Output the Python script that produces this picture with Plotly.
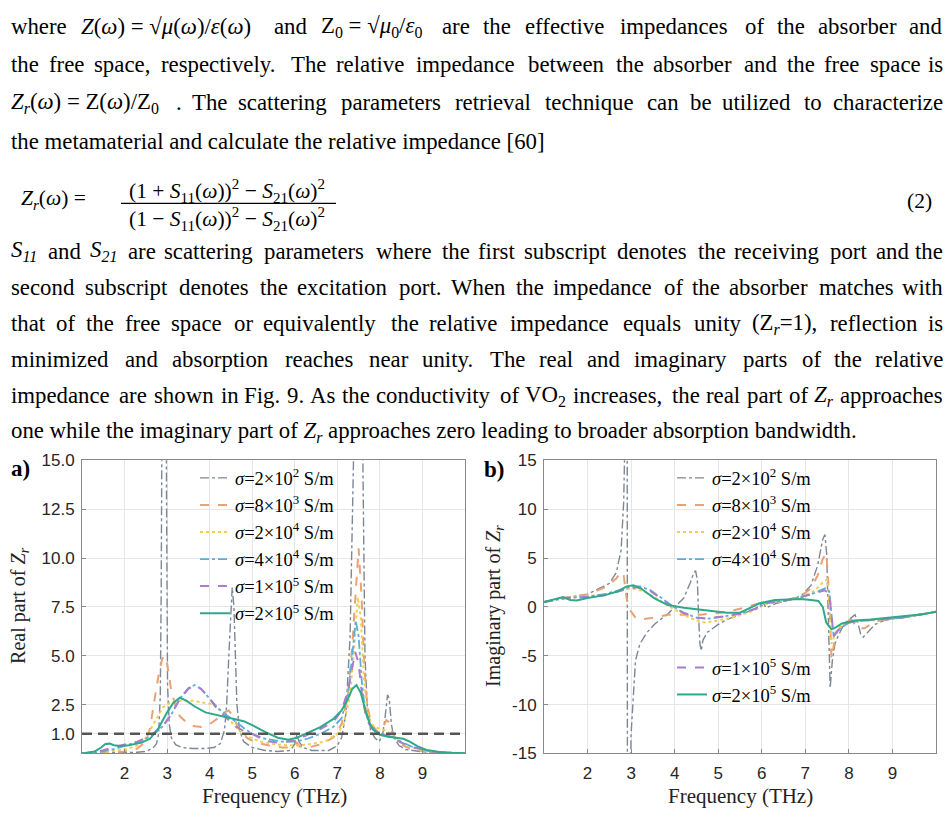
import re
import plotly.graph_objects as go

W, H = 948, 823

# ---------------- data ----------------
legend_labels = [
    "<i>σ</i>=2×10<sup>2</sup> S/m",
    "<i>σ</i>=8×10<sup>3</sup> S/m",
    "<i>σ</i>=2×10<sup>4</sup> S/m",
    "<i>σ</i>=4×10<sup>4</sup> S/m",
    "<i>σ</i>=1×10<sup>5</sup> S/m",
    "<i>σ</i>=2×10<sup>5</sup> S/m",
]
colors = ["#7d8796", "#e9a274", "#f0cf4e", "#5aaedc", "#ad7cc8", "#2fa98b"]
dashes = ["dashdot", "dash", "dot", "dashdot", "dash", "solid"]
widths = [1.4, 2.0, 2.0, 1.8, 2.0, 2.0]

# Real part of Zr (panel a)
re_f_2e2 = [1.0, 1.5, 2.0, 2.3, 2.5, 2.6, 2.7, 2.75, 2.8, 2.84, 2.86, 2.88, 2.93, 2.97, 2.99, 3.01, 3.05, 3.1, 3.2, 3.35,
            3.6, 3.9, 4.1, 4.25, 4.35, 4.4, 4.45, 4.5, 4.53, 4.57, 4.6, 4.64, 4.7, 4.8, 5.0, 5.3, 5.6, 5.9, 6.0, 6.05,
            6.1, 6.2, 6.4, 6.8, 7.0, 7.1, 7.2, 7.3, 7.38, 7.45, 7.5, 7.56, 7.6, 7.65, 7.7, 7.78, 7.88, 7.98, 8.06,
            8.12, 8.18, 8.22, 8.27, 8.33, 8.45, 8.6, 9.0, 9.5, 10.0]
re_v_2e2 = [0.0, 0.01, 0.03, 0.06, 0.1, 0.2, 0.35, 0.5, 1.0, 3.0, 8.0, 20.0, 40.0, 20.0, 8.0, 3.5, 1.5, 0.8, 0.45, 0.3,
            0.25, 0.25, 0.3, 0.5, 1.2, 2.5, 5.0, 7.5, 8.5, 7.5, 5.0, 2.5, 1.2, 0.6, 0.3, 0.15, 0.1, 0.15, 0.5, 0.95,
            0.6, 0.3, 0.15, 0.15, 0.4, 0.8, 2.0, 6.0, 15.0, 30.0, 40.0, 30.0, 15.0, 5.0, 2.5, 1.2, 0.8, 0.6, 0.9,
            1.8, 3.0, 2.8, 1.5, 0.8, 0.4, 0.2, 0.08, 0.03, 0.01]

re_f_8e3 = [1.0, 1.5, 2.0, 2.3, 2.5, 2.6, 2.7, 2.8, 2.88, 2.93, 3.0, 3.05, 3.1, 3.2, 3.3, 3.45, 3.6, 3.8, 4.0, 4.2,
            4.35, 4.45, 4.55, 4.65, 4.75, 4.9, 5.1, 5.4, 5.7, 5.95, 6.05, 6.12, 6.3, 6.6, 6.9, 7.1, 7.25, 7.35, 7.43,
            7.5, 7.57, 7.63, 7.7, 7.8, 7.95, 8.05, 8.15, 8.22, 8.3, 8.45, 8.7, 9.0, 9.5, 10.0]
re_v_8e3 = [0.0, 0.02, 0.1, 0.25, 0.6, 1.3, 2.7, 4.0, 4.8, 5.0, 4.6, 4.0, 3.2, 2.4, 1.9, 1.6, 1.4, 1.35, 1.5, 1.8,
            2.1, 2.2, 1.9, 1.4, 1.05, 0.75, 0.55, 0.4, 0.3, 0.3, 0.55, 0.35, 0.3, 0.45, 0.8, 1.5, 3.0, 5.5, 8.5,
            10.5, 8.0, 4.5, 2.5, 1.5, 1.1, 1.2, 1.7, 1.6, 1.0, 0.5, 0.25, 0.12, 0.04, 0.01]

re_f_2e4 = [1.0, 1.5, 2.0, 2.3, 2.5, 2.6, 2.75, 2.9, 3.1, 3.3, 3.6, 3.9, 4.1, 4.3, 4.5, 4.7, 4.9, 5.2, 5.6, 6.0, 6.3,
            6.7, 7.0, 7.15, 7.3, 7.4, 7.48, 7.55, 7.62, 7.7, 7.8, 7.95, 8.1, 8.25, 8.4, 8.6, 8.9, 9.3, 10.0]
re_v_2e4 = [0.0, 0.05, 0.2, 0.4, 0.8, 1.2, 1.8, 2.35, 2.65, 2.7, 2.7, 2.6, 2.5, 2.1, 1.6, 1.15, 0.85, 0.6, 0.45,
            0.4, 0.45, 0.6, 1.0, 1.5, 3.0, 5.5, 8.0, 7.0, 4.0, 2.2, 1.5, 1.3, 1.2, 1.0, 0.7, 0.45, 0.2, 0.07, 0.01]

re_f_4e4 = [1.0, 1.4, 1.8, 2.1, 2.4, 2.7, 2.9, 3.1, 3.3, 3.5, 3.65, 3.8, 4.0, 4.2, 4.4, 4.6, 4.8, 5.0, 5.3, 5.7, 6.0,
            6.3, 6.6, 6.9, 7.1, 7.25, 7.35, 7.43, 7.5, 7.57, 7.65, 7.75, 7.9, 8.1, 8.3, 8.5, 8.8, 9.2, 9.6, 10.0]
re_v_4e4 = [0.0, 0.05, 0.25, 0.45, 0.65, 1.0, 1.4, 2.0, 2.8, 3.35, 3.5, 3.3, 2.8, 2.3, 1.95, 1.65, 1.3, 1.0, 0.75,
            0.6, 0.6, 0.75, 1.0, 1.35, 1.8, 3.0, 5.0, 6.8, 6.0, 3.8, 2.2, 1.5, 1.15, 0.95, 0.85, 0.6, 0.3, 0.1,
            0.03, 0.01]

re_f_1e5 = [1.0, 1.4, 1.8, 2.0, 2.3, 2.6, 2.9, 3.1, 3.3, 3.5, 3.65, 3.8, 4.0, 4.2, 4.4, 4.6, 4.8, 5.0, 5.3, 5.6, 6.0,
            6.3, 6.6, 6.9, 7.1, 7.25, 7.35, 7.42, 7.5, 7.58, 7.68, 7.8, 7.95, 8.1, 8.3, 8.5, 8.8, 9.2, 9.6, 10.0]
re_v_1e5 = [0.0, 0.1, 0.35, 0.45, 0.6, 0.9, 1.4, 2.0, 2.8, 3.3, 3.5, 3.3, 2.8, 2.2, 1.8, 1.4, 1.15, 1.0, 0.65, 0.55,
            0.65, 0.95, 1.25, 1.6, 2.2, 3.2, 4.5, 5.2, 4.6, 3.0, 1.8, 1.3, 1.05, 0.95, 0.8, 0.55, 0.3, 0.1, 0.03,
            0.0]

re_f_2e5 = [1.0, 1.3, 1.45, 1.55, 1.65, 1.75, 1.9, 2.1, 2.4, 2.6, 2.8, 3.0, 3.15, 3.3, 3.45, 3.65, 3.9, 4.2, 4.5,
            4.8, 5.0, 5.3, 5.6, 5.85, 6.05, 6.3, 6.6, 6.9, 7.1, 7.25, 7.35, 7.45, 7.55, 7.65, 7.75, 7.85, 8.0, 8.2,
            8.4, 8.55, 8.7, 8.9, 9.1, 9.4, 9.7, 10.0]
re_v_2e5 = [0.0, 0.1, 0.3, 0.48, 0.5, 0.42, 0.38, 0.42, 0.55, 0.75, 1.3, 2.1, 2.6, 2.85, 2.7, 2.4, 2.1, 1.95, 1.8,
            1.65, 1.45, 1.1, 0.8, 0.7, 0.8, 1.05, 1.35, 1.75, 2.2, 2.8, 3.3, 3.5, 3.1, 2.3, 1.6, 1.2, 0.95, 0.85,
            0.8, 0.75, 0.6, 0.35, 0.18, 0.07, 0.03, 0.01]

# Imaginary part of Zr (panel b)
im_f_2e2 = [1.0, 1.5, 2.0, 2.5, 2.66, 2.77, 2.83, 2.87, 2.905, 2.92, 2.95, 3.0, 3.1, 3.2, 3.35, 3.53, 3.7, 3.83,
            3.98, 4.21, 4.36, 4.44, 4.48, 4.52, 4.55, 4.58, 4.61, 4.65, 4.75, 5.0, 5.2, 5.5, 5.8, 5.97, 6.03, 6.1,
            6.3, 6.6, 6.9, 7.13, 7.28, 7.4, 7.45, 7.49, 7.52, 7.57, 7.62, 7.68, 7.75, 7.85, 7.95, 8.06, 8.14, 8.2,
            8.27, 8.33, 8.45, 8.6, 8.8, 9.0, 9.3, 9.7, 10.0]
im_v_2e2 = [0.5, 0.95, 1.3, 2.4, 3.5, 5.8, 10.8, 20.0, 60.0, -60.0, -25.0, -13.0, -5.5, -3.8, -2.7, -1.8, -1.2,
            -0.8, -0.1, 0.9, 2.5, 3.5, 3.7, 2.8, -1.0, -3.8, -4.5, -3.4, -2.6, -1.8, -1.3, -0.8, -0.3, 0.2, 0.45,
            -0.1, 0.3, 0.7, 1.1, 2.2, 4.2, 6.9, 7.4, 5.4, 0.8, -8.3, -5.5, -3.8, -3.0, -2.1, -1.5, -1.1, -0.8,
            -1.5, -2.8, -3.1, -2.5, -1.8, -1.4, -1.25, -1.05, -0.75, -0.5]

im_f_8e3 = [1.0, 1.5, 2.0, 2.4, 2.66, 2.77, 2.83, 2.9, 2.97, 3.1, 3.22, 3.53, 3.83, 4.21, 4.6, 5.05, 5.5, 5.97, 6.5,
            6.9, 7.13, 7.28, 7.4, 7.48, 7.52, 7.56, 7.6, 7.66, 7.74, 7.9, 8.06, 8.2, 8.36, 8.6, 8.9, 9.3, 9.7, 10.0]
im_v_8e3 = [0.5, 0.95, 1.25, 2.0, 2.9, 3.6, 3.2, 0.8, -0.3, -1.1, -1.3, -1.1, -0.8, -0.8, -0.8, -0.6, -0.2, 0.4, 0.6,
            1.1, 1.9, 3.2, 4.9, 5.5, 3.2, -0.6, -5.3, -3.8, -2.5, -1.5, -1.3, -2.2, -2.2, -1.5, -1.25, -1.05,
            -0.75, -0.5]

im_f_2e4 = [1.0, 1.5, 2.0, 2.4, 2.8, 3.0, 3.3, 3.6, 3.9, 4.2, 4.5, 4.7, 5.0, 5.4, 5.8, 6.1, 6.5, 6.9, 7.2, 7.4, 7.5,
            7.55, 7.6, 7.7, 7.85, 8.1, 8.5, 8.9, 9.3, 9.7, 10.0]
im_v_2e4 = [0.5, 0.9, 1.1, 1.3, 1.7, 1.9, 1.6, 0.8, 0.0, -0.8, -1.4, -1.6, -1.4, -1.0, -0.4, 0.3, 0.6, 1.0, 1.6,
            2.5, 2.8, 0.5, -3.8, -2.6, -1.8, -1.5, -1.4, -1.25, -1.05, -0.75, -0.5]

im_f_4e4 = [1.0, 1.5, 2.0, 2.4, 2.8, 3.0, 3.2, 3.45, 3.7, 3.95, 4.2, 4.5, 4.8, 5.1, 5.5, 5.85, 6.1, 6.5, 6.9, 7.2,
            7.45, 7.55, 7.6, 7.65, 7.8, 8.0, 8.3, 8.7, 9.0, 9.3, 9.7, 10.0]
im_v_4e4 = [0.5, 0.9, 1.05, 1.3, 1.8, 2.1, 2.1, 1.7, 0.9, 0.1, -0.6, -1.1, -1.2, -1.0, -0.7, -0.2, 0.4, 0.6, 1.0,
            1.4, 1.9, 1.6, -1.0, -3.0, -2.2, -1.6, -1.4, -1.3, -1.2, -1.05, -0.75, -0.5]

im_f_1e5 = [1.0, 1.5, 2.0, 2.4, 2.8, 3.0, 3.15, 3.45, 3.7, 3.95, 4.2, 4.5, 4.7, 5.1, 5.5, 5.85, 6.1, 6.5, 6.9, 7.2,
            7.45, 7.55, 7.6, 7.65, 7.8, 8.0, 8.3, 8.7, 9.0, 9.3, 9.7, 10.0]
im_v_1e5 = [0.5, 0.9, 1.0, 1.2, 1.7, 1.95, 2.0, 1.6, 0.8, 0.0, -0.6, -1.1, -1.2, -1.0, -0.7, -0.2, 0.4, 0.6, 1.0,
            1.35, 1.7, 1.3, -1.0, -3.0, -2.1, -1.6, -1.4, -1.3, -1.2, -1.05, -0.75, -0.5]

im_f_2e5 = [1.0, 1.25, 1.44, 1.6, 1.75, 2.0, 2.4, 2.7, 2.9, 3.05, 3.22, 3.53, 3.83, 4.21, 4.75, 5.2, 5.5, 5.97, 6.3,
            6.9, 7.13, 7.3, 7.4, 7.48, 7.6, 7.7, 7.84, 8.14, 8.5, 8.83, 9.3, 9.7, 10.0]
im_v_2e5 = [0.5, 0.8, 1.0, 0.7, 0.65, 0.9, 1.2, 1.6, 2.1, 2.2, 1.9, 0.9, 0.2, -0.1, -0.4, -0.6, -0.6, 0.4, 0.7,
            0.8, 0.7, 0.6, 0.0, -1.6, -2.3, -2.1, -1.7, -1.4, -1.3, -1.15, -1.0, -0.75, -0.5]

re_series = [(re_f_2e2, re_v_2e2), (re_f_8e3, re_v_8e3), (re_f_2e4, re_v_2e4),
             (re_f_4e4, re_v_4e4), (re_f_1e5, re_v_1e5), (re_f_2e5, re_v_2e5)]
im_series = [(im_f_2e2, im_v_2e2), (im_f_8e3, im_v_8e3), (im_f_2e4, im_v_2e4),
             (im_f_4e4, im_v_4e4), (im_f_1e5, im_v_1e5), (im_f_2e5, im_v_2e5)]

freq_ticks = [2, 3, 4, 5, 6, 7, 8, 9]
re_ticks = [1.0, 2.5, 5.0, 7.5, 10.0, 12.5, 15.0]
re_tick_text = ["1.0", "2.5", "5.0", "7.5", "10.0", "12.5", "15.0"]
im_ticks = [-15, -10, -5, 0, 5, 10, 15]
im_tick_text = ["-15", "-10", "-5", "0", "5", "10", "15"]
match_level = 1.0

# ---------------- text ----------------
SERIF = "Liberation Serif"
SANS = "Liberation Sans"
NB = "\u00a0"

# (line html, justified?)
paragraph1 = [
    (f"where <i>Z</i>(<i>ω</i>){NB}={NB}√<i>μ</i>(<i>ω</i>)/<i>ε</i>(<i>ω</i>) and "
     f"Z<sub>0</sub>{NB}={NB}√<i>μ</i><sub>0</sub>/<i>ε</i><sub>0</sub> are the effective impedances of the absorber and", True),
    ("the free space, respectively. The relative impedance between the absorber and the free space is", True),
    (f"<i>Z<sub>r</sub></i>(<i>ω</i>){NB}={NB}Z(<i>ω</i>)/Z<sub>0</sub> . The scattering parameters retrieval "
     "technique can be utilized to characterize", True),
    ("the metamaterial and calculate the relative impedance [60]", False),
]
paragraph2 = [
    ("<i>S<sub>11</sub></i> and <i>S<sub>21</sub></i> are scattering parameters where the first subscript "
     "denotes the receiving port and the", True),
    ("second subscript denotes the excitation port. When the impedance of the absorber matches with", True),
    ("that of the free space or equivalently the relative impedance equals unity (Z<sub><i>r</i></sub>=1), "
     "reflection is", True),
    ("minimized and absorption reaches near unity. The real and imaginary parts of the relative", True),
    ("impedance are shown in Fig. 9. As the conductivity of VO<sub>2</sub> increases, the real part of "
     "<i>Z<sub>r</sub></i> approaches", True),
    ("one while the imaginary part of <i>Z<sub>r</sub></i> approaches zero leading to broader absorption "
     "bandwidth.", False),
]
p1_y = [18, 57, 96, 136]
p2_y = [248, 285, 322, 359, 396, 433]
TX0, TX1 = 9, 945
TEXT_SIZE = 22.8
WIDTH_SAFETY = 1.045

# Times / Liberation Serif advance widths (1/1000 em)
ADV = {" ": 250, NB: 250, "!": 333, "(": 333, ")": 333, "[": 333, "]": 333, "+": 564, "=": 564, "-": 333,
       ",": 250, ".": 250, "/": 278, ":": 278, ";": 278, "√": 549, "−": 564, "×": 564,
       "ω": 686, "μ": 576, "ε": 439, "σ": 603,
       "A": 722, "B": 667, "C": 667, "D": 722, "E": 611, "F": 556, "G": 722, "H": 722, "I": 333, "J": 389,
       "K": 722, "L": 611, "M": 889, "N": 722, "O": 722, "P": 556, "Q": 722, "R": 667, "S": 556, "T": 611,
       "U": 722, "V": 722, "W": 944, "X": 722, "Y": 722, "Z": 611,
       "a": 444, "b": 500, "c": 444, "d": 500, "e": 444, "f": 333, "g": 500, "h": 500, "i": 278, "j": 278,
       "k": 500, "l": 278, "m": 778, "n": 500, "o": 500, "p": 500, "q": 500, "r": 333, "s": 389, "t": 278,
       "u": 500, "v": 500, "w": 722, "x": 500, "y": 500, "z": 444}
ADV_IT = {"Z": 611, "S": 556, "r": 389}


def measure(html, size):
    width, scale, italic = 0.0, 1.0, False
    for tok in re.split(r"(<[^>]+>)", html):
        if tok.startswith("<"):
            t = tok.lower()
            if t in ("<sub>", "<sup>"):
                scale = 0.7
            elif t in ("</sub>", "</sup>"):
                scale = 1.0
            elif t == "<i>":
                italic = True
            elif t == "</i>":
                italic = False
            continue
        for ch in tok:
            adv = ADV_IT[ch] if (italic and ch in ADV_IT) else ADV.get(ch, 500)
            width += adv / 1000.0 * size * scale
    return width * WIDTH_SAFETY


annotations = []


def text_ann(text, x, y, anchor):
    annotations.append(dict(x=x / W, y=1 - y / H, xref="paper", yref="paper", text=text,
                            showarrow=False, xanchor=anchor, yanchor="middle",
                            font=dict(family=SERIF, size=TEXT_SIZE, color="black")))


def add_line(html, y, justify):
    if not justify:
        text_ann(html, TX0, y, "left")
        return
    words = html.split(" ")
    ws = [measure(w, TEXT_SIZE) for w in words]
    gap = (TX1 - TX0 - sum(ws)) / (len(words) - 1)
    x = TX0
    for i, w in enumerate(words):
        if i == len(words) - 1:
            text_ann(w, TX1, y, "right")
        else:
            text_ann(w, x, y, "left")
        x += ws[i] + gap


for (html, just), y in zip(paragraph1, p1_y):
    add_line(html, y, just)
for (html, just), y in zip(paragraph2, p2_y):
    add_line(html, y, just)

eq_font = dict(family=SERIF, size=21.5, color="black")
annotations += [
    dict(x=19 / W, y=1 - 195 / H, xref="paper", yref="paper", xanchor="left", yanchor="middle", showarrow=False,
         text="<i>Z<sub>r</sub></i>(<i>ω</i>) =", font=eq_font),
    dict(x=227 / W, y=1 - 186 / H, xref="paper", yref="paper", xanchor="center", yanchor="middle", showarrow=False,
         text="(1 + <i>S</i><sub>11</sub>(<i>ω</i>))<sup>2</sup> − <i>S</i><sub>21</sub>(<i>ω</i>)<sup>2</sup>", font=eq_font),
    dict(x=227 / W, y=1 - 215 / H, xref="paper", yref="paper", xanchor="center", yanchor="middle", showarrow=False,
         text="(1 − <i>S</i><sub>11</sub>(<i>ω</i>))<sup>2</sup> − <i>S</i><sub>21</sub>(<i>ω</i>)<sup>2</sup>", font=eq_font),
    dict(x=934 / W, y=1 - 197 / H, xref="paper", yref="paper", xanchor="right", yanchor="middle", showarrow=False,
         text="(2)", font=eq_font),
]

# panel labels and axis titles
annotations += [
    dict(x=9 / W, y=1 - 470 / H, xref="paper", yref="paper", xanchor="left", yanchor="middle", showarrow=False,
         text="<b>a)</b>", font=dict(family=SERIF, size=23, color="black")),
    dict(x=482 / W, y=1 - 471 / H, xref="paper", yref="paper", xanchor="left", yanchor="middle", showarrow=False,
         text="<b>b)</b>", font=dict(family=SERIF, size=23, color="black")),
    dict(x=20 / W, y=1 - 611 / H, xref="paper", yref="paper", xanchor="center", yanchor="middle", showarrow=False,
         textangle=-90, text="Real part of <i>Z<sub>r</sub></i>", font=dict(family=SERIF, size=20, color="#222")),
    dict(x=495 / W, y=1 - 611 / H, xref="paper", yref="paper", xanchor="center", yanchor="middle", showarrow=False,
         textangle=-90, text="Imaginary part of <i>Z<sub>r</sub></i>", font=dict(family=SERIF, size=20, color="#222")),
    dict(x=274 / W, y=1 - 806 / H, xref="paper", yref="paper", xanchor="center", yanchor="middle", showarrow=False,
         text="Frequency (THz)", font=dict(family=SERIF, size=21, color="#222")),
    dict(x=740 / W, y=1 - 806 / H, xref="paper", yref="paper", xanchor="center", yanchor="middle", showarrow=False,
         text="Frequency (THz)", font=dict(family=SERIF, size=21, color="#222")),
]


def P(x, y):
    return f"{x / W:.5f},{1 - y / H:.5f}"


shapes = [
    # square-root sign and fraction bar of equation (2)
    dict(type="path", xref="paper", yref="paper",
         path=f"M {P(100, 202)} L {P(105, 199)} L {P(113, 236)} L {P(120, 173)} L {P(338, 173)}",
         line=dict(color="black", width=1.3)),
    dict(type="line", xref="paper", yref="paper", x0=121 / W, x1=336 / W, y0=1 - 199 / H, y1=1 - 199 / H,
         line=dict(color="black", width=1.2)),
]

# ---------------- figure ----------------
fig = go.Figure()

for i, (f, v) in enumerate(re_series):
    fig.add_trace(go.Scatter(x=f, y=v, mode="lines", name=legend_labels[i], xaxis="x", yaxis="y",
                             line=dict(color=colors[i], dash=dashes[i], width=widths[i]),
                             legend="legend", showlegend=True))
for i, (f, v) in enumerate(im_series):
    fig.add_trace(go.Scatter(x=f, y=v, mode="lines", name=legend_labels[i], xaxis="x2", yaxis="y2",
                             line=dict(color=colors[i], dash=dashes[i], width=widths[i]),
                             legend="legend2" if i < 4 else "legend3", showlegend=True))

fig.add_hline(y=match_level, line=dict(color="#555555", dash="10px,6px", width=2.5), xref="x", yref="y")

axis_common = dict(showgrid=True, gridcolor="#e6e6e6", gridwidth=1, showline=True, linecolor="#888888",
                   linewidth=1, mirror=True, ticks="inside", ticklen=4, tickcolor="#888888", zeroline=False,
                   tickfont=dict(family=SANS, size=17, color="#262626"))

legend_common = dict(bgcolor="rgba(0,0,0,0)", borderwidth=0, font=dict(family=SERIF, size=18.5, color="black"),
                     xref="paper", yref="paper", xanchor="left", yanchor="top", itemwidth=30,
                     tracegroupgap=0)

fig.update_layout(
    width=W, height=H, margin=dict(l=0, r=0, t=0, b=0), paper_bgcolor="white", plot_bgcolor="white",
    xaxis=dict(domain=[82 / W, 465 / W], range=[1, 10], tickvals=freq_ticks, anchor="y",
               ticklabelstandoff=4, **axis_common),
    yaxis=dict(domain=[1 - 762 / H, 1 - 462 / H], range=[0, 15], tickvals=re_ticks, ticktext=re_tick_text,
               anchor="x", ticklabelstandoff=3, **axis_common),
    xaxis2=dict(domain=[544 / W, 936 / W], range=[1, 10], tickvals=freq_ticks, anchor="y2",
                ticklabelstandoff=4, **axis_common),
    yaxis2=dict(domain=[1 - 762 / H, 1 - 462 / H], range=[-15, 15], tickvals=im_ticks, ticktext=im_tick_text,
                anchor="x2", ticklabelstandoff=3, **axis_common),
    legend=dict(x=195 / W, y=1 - 461 / H, **legend_common),
    legend2=dict(x=672 / W, y=1 - 461 / H, **legend_common),
    legend3=dict(x=672 / W, y=1 - 655 / H, **legend_common),
    annotations=annotations,
    shapes=shapes,
)

fig.write_html("out.html")
